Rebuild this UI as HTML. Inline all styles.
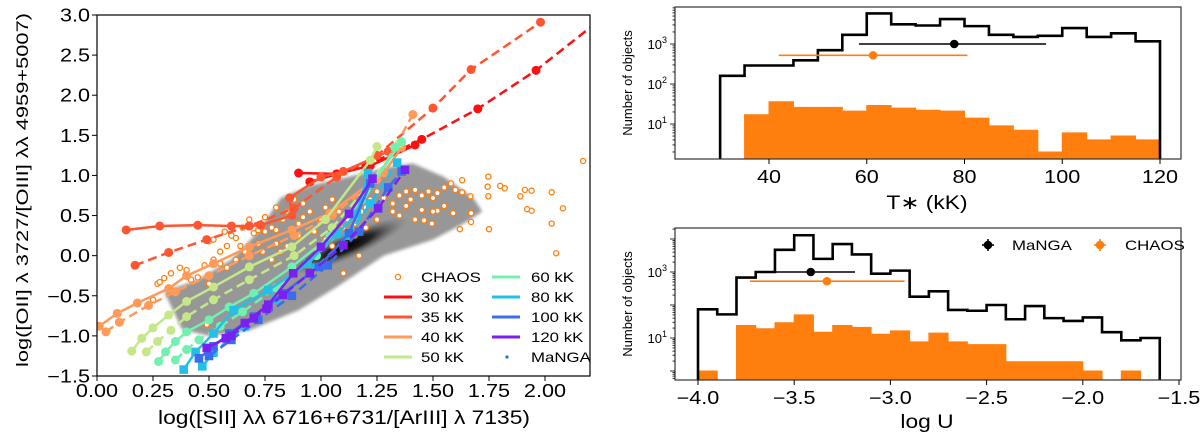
<!DOCTYPE html>
<html><head><meta charset="utf-8">
<style>
html,body{margin:0;padding:0;background:#fff;}
svg{display:block;font-family:"Liberation Sans",sans-serif;}
</style></head>
<body>
<svg id="fig" width="1200" height="435" viewBox="0 0 1200 435" xmlns="http://www.w3.org/2000/svg">
<defs>
<radialGradient id="coreg" cx="50%" cy="50%" r="50%">
<stop offset="0%" stop-color="#000"/><stop offset="40%" stop-color="#222"/><stop offset="100%" stop-color="#6a6a6a" stop-opacity="0"/>
</radialGradient>
<filter id="blur1"><feGaussianBlur stdDeviation="1.5"/></filter>
</defs>
</svg>
<script>
// ---------- LEFT CHART DATA ----------
const temps = ["30 kK","35 kK","40 kK","50 kK","60 kK","80 kK","100 kK","120 kK"];
const tempColors = ["#ff1010","#ff5530","#ff9a58","#c4e888","#72f0b0","#22c0e8","#3a6cf0","#7a20f0"];
const markerKind = ["c","c","c","c","c","s","s","s"];
const solid30=[[0.90,1.03],[1.07,1.02],[1.22,1.12],[1.42,1.38]];
const dash30=[[0.95,0.92],[1.2,1.12],[1.45,1.45],[1.70,1.83],[1.96,2.31],[2.25,2.95]];
const solid35=[[0.13,0.32],[0.28,0.37],[0.45,0.38],[0.60,0.37],[0.68,0.37],[0.73,0.38],[0.87,0.50],[0.86,0.72],[1.0,0.98],[1.1,1.05],[1.3,1.3]];
const dash35=[[0.17,-0.12],[0.32,0.04],[0.49,0.20],[0.68,0.37],[0.88,0.59],[1.07,0.98],[1.25,1.25],[1.50,1.84],[1.67,2.32],[1.98,2.91]];
const solid40=[[0.01,-0.88],[0.09,-0.72],[0.18,-0.59],[0.32,-0.41],[0.40,-0.25],[0.52,-0.10],[0.68,0.11],[0.87,0.32],[1.04,0.53],[1.28,1.03],[1.36,1.35]];
const dash40=[[0.04,-0.95],[0.10,-0.83],[0.23,-0.62],[0.35,-0.45],[0.50,-0.25],[0.68,0.0],[0.88,0.25],[1.05,0.5],[1.25,0.95],[1.41,1.76]];
const solid50=[[0.155,-1.19],[0.20,-1.03],[0.25,-0.90],[0.32,-0.74],[0.40,-0.57],[0.52,-0.39],[0.68,-0.14],[0.87,0.11],[1.02,0.45],[1.22,1.19],[1.25,1.36]];
const dash50=[[0.22,-1.20],[0.27,-1.07],[0.33,-0.93],[0.40,-0.76],[0.52,-0.55],[0.68,-0.30],[0.88,0.0],[1.05,0.35],[1.22,0.9],[1.35,1.4]];
const solid60=[[0.275,-1.32],[0.306,-1.20],[0.35,-1.07],[0.40,-0.95],[0.50,-0.80],[0.59,-0.64],[0.70,-0.47],[0.87,-0.14],[1.04,0.24],[1.18,0.69],[1.36,1.42]];
const dash60=[[0.35,-1.30],[0.40,-1.17],[0.455,-1.05],[0.55,-0.88],[0.65,-0.7],[0.8,-0.4],[0.98,0.0],[1.15,0.5],[1.33,1.35]];
const solid80=[[0.387,-1.42],[0.44,-1.20],[0.52,-0.97],[0.61,-0.68],[0.765,-0.43],[0.94,-0.10],[1.07,0.27],[1.16,0.52],[1.21,1.03]];
const dash80=[[0.47,-1.38],[0.52,-1.21],[0.66,-0.88],[0.80,-0.55],[0.98,-0.15],[1.12,0.25],[1.22,0.65],[1.34,1.16]];
const solid100=[[0.455,-1.28],[0.52,-1.13],[0.59,-0.97],[0.70,-0.76],[0.83,-0.47],[0.99,-0.14],[1.125,0.28],[1.22,0.9]];
const dash100=[[0.5,-1.25],[0.6,-1.05],[0.72,-0.8],[0.87,-0.5],[1.03,-0.12],[1.17,0.3],[1.3,0.85],[1.36,1.05]];
const solid120=[[0.49,-1.15],[0.575,-1.03],[0.66,-0.84],[0.765,-0.61],[0.876,-0.22],[1.0,0.11],[1.125,0.52],[1.23,0.96]];
const dash120=[[0.60,-1.0],[0.70,-0.78],[0.757,-0.66],[0.83,-0.49],[0.95,-0.22],[1.1,0.13],[1.255,0.59],[1.375,1.07]];
const solidSeries=[solid30,solid35,solid40,solid50,solid60,solid80,solid100,solid120];
const dashSeries=[dash30,dash35,dash40,dash50,dash60,dash80,dash100,dash120];
const chaosX=[2.17,1.747,1.744,1.747,1.75,1.80,1.82,1.89,1.91,1.94,1.92,1.94,2.03,2.08,2.03,2.05,1.667,1.67,1.67,1.62,1.63,1.63,1.495,1.59,1.52,1.45,1.46,1.10,1.17,0.49,
0.27,0.28,0.30,0.33,0.37,0.40,0.45,0.48,0.52,0.55,0.50,0.52,0.55,0.58,0.60,0.57,0.62,0.64,0.66,0.65,0.70,0.72,0.75,0.78,0.80,0.72,0.74,0.80,0.83,0.85,0.87,0.90,0.92,0.95,0.90,0.82,0.78,0.85,0.97,1.00,1.02,1.05,1.08,1.10,1.12,1.15,1.18,1.20,1.22,1.25,1.28,1.30,1.32,1.35,1.38,1.40,1.42,1.45,1.48,1.50,1.52,1.55,1.58,1.60,1.32,1.35,1.38,1.42,1.50,1.55,1.20,1.15,1.25,1.02,0.98,1.05,0.62,0.58,0.42,0.35,0.25,0.50,0.68,0.75,0.80,0.88,0.92];
const chaosY=[1.18,0.985,0.86,0.74,0.33,0.87,0.84,0.74,0.82,0.81,0.58,0.56,0.79,0.59,0.40,0.03,0.74,0.53,0.42,0.33,0.94,0.79,0.40,0.53,0.56,0.57,0.44,-0.22,0.0,-0.86,
-0.35,-0.33,-0.28,-0.22,-0.15,-0.18,-0.27,-0.12,-0.05,-0.10,0.18,0.20,0.05,0.12,0.25,0.30,0.22,0.12,0.05,0.35,0.28,0.32,0.30,0.35,0.32,0.15,0.05,0.15,0.45,0.55,0.60,0.40,0.48,0.55,0.25,0.05,-0.05,0.12,0.30,0.45,0.60,0.70,0.55,0.35,0.45,0.40,0.55,0.60,0.70,0.80,0.72,0.85,0.65,0.75,0.80,0.70,0.82,0.75,0.80,0.72,0.78,0.85,0.90,0.82,0.55,0.50,0.62,0.45,0.55,0.62,0.35,0.25,0.45,0.20,0.08,0.12,-0.05,-0.15,-0.30,-0.45,-0.55,-0.35,0.45,0.48,0.60,0.70,0.65];
const xTicksL=[0,0.25,0.5,0.75,1.0,1.25,1.5,1.75,2.0];
const xTickLabelsL=["0.00","0.25","0.50","0.75","1.00","1.25","1.50","1.75","2.00"];
const yTicksL=[3.0,2.5,2.0,1.5,1.0,0.5,0.0,-0.5,-1.0,-1.5];
const yTickLabelsL=["3.0","2.5","2.0","1.5","1.0","0.5","0.0","\u22120.5","\u22121.0","\u22121.5"];
// ---------- TOP RIGHT DATA ----------
const tEdges=[30,35,40,45,50,55,60,65,70,75,80,85,90,95,100,105,110,115,120];
const tMaNGA=[160,290,290,390,700,1700,5800,3100,2900,4200,2800,1700,1500,1600,2500,1500,1850,1170];
const tCHAOS=[0,17,36,26,26,21,29,25,22,21,14,9,7,2,6,4,5,4];
const tMeanMaNGA=[77.9,1000], tErrMaNGA=[58.4,96.7];
const tMeanCHAOS=[61.3,520], tErrCHAOS=[42,80.6];
const tXTicks=[40,60,80,100,120];
const tYTicks=[1,2,3];
// ---------- BOTTOM RIGHT DATA ----------
const uEdges=[-4.0,-3.9,-3.8,-3.7,-3.6,-3.5,-3.4,-3.3,-3.2,-3.1,-3.0,-2.9,-2.8,-2.7,-2.6,-2.5,-2.4,-2.3,-2.2,-2.1,-2.0,-1.9,-1.8,-1.7,-1.6];
const uMaNGA=[74,52,680,1000,4700,13000,2500,7000,3400,890,1100,178,260,71,67,100,37,93,40,33,42,15,8.5,10];
const uCHAOS=[1,0,24,19,29,50,15,24,21,13,16.5,7.6,14,7.6,6.3,6.3,1.9,1.9,1.9,1.9,1,0,1,0];
const uMeanMaNGA=[-3.414,1000], uErrMaNGA=[-3.70,-3.184];
const uMeanCHAOS=[-3.33,525], uErrCHAOS=[-3.73,-2.926];
const uXTicks=[-4.0,-3.5,-3.0,-2.5,-2.0,-1.5];
const uXTickLabels=["\u22124.0","\u22123.5","\u22123.0","\u22122.5","\u22122.0","\u22121.5"];
const uYTicks=[1,3];

const NS="http://www.w3.org/2000/svg";
const svg=document.getElementById('fig');
function mk(tag,attrs,parent){const e=document.createElementNS(NS,tag);for(const k in attrs)e.setAttribute(k,attrs[k]);(parent||svg).appendChild(e);return e;}
const stretch=[];
function txt(s,x,y,size,anchor,parent,st){const t=mk('text',{x:x,y:y,'font-size':size,'text-anchor':anchor||'middle',fill:'#000'},parent);t.textContent=s;if(st!==false)stretch.push(t);return t;}

const LX=x=>97+x*224, LY=y=>15+(3-y)*80.22;
const TX=t=>769+(t-40)*4.8875, TY=v=>44-(Math.log10(v)-3)*40;
const UX=u=>698+(u+4)*192.4, UY=v=>272-(Math.log10(v)-3)*33;

// ===== LEFT CHART =====
const gL=mk('g',{});


const cloudShape=[[0.3,-0.45],[0.45,-0.3],[0.6,-0.05],[0.72,0.3],[0.82,0.72],[0.96,0.88],[1.15,1.0],[1.3,1.1],[1.41,1.15],[1.55,0.98],[1.68,0.72],[1.72,0.55],[1.65,0.42],[1.5,0.2],[1.28,0.0],[1.07,-0.39],[0.9,-0.68],[0.68,-0.93],[0.5,-1.0],[0.38,-0.92]];
const cloud=mk('polygon',{points:cloudShape.map(p=>LX(p[0])+','+LY(p[1])).join(' '),fill:'#8c8c8c','fill-opacity':0.9,filter:'url(#blur1)'},gL);


const core=mk('ellipse',{cx:LX(1.12),cy:LY(0.12),rx:65,ry:13,fill:'url(#coreg)',transform:`rotate(-24 ${LX(1.12)} ${LY(0.12)})`},gL);


for(let i=0;i<chaosX.length;i++){
 const c=mk('circle',{cx:LX(chaosX[i]),cy:LY(chaosY[i]),r:2.6,fill:'#fff',stroke:'#ff7f0e','stroke-width':1.3},gL);
 
 
}
function marker(kind,x,y,color,parent){
 if(kind==='c') return mk('circle',{cx:x,cy:y,r:4.5,fill:color},parent);
 return mk('rect',{x:x-4.3,y:y-4.3,width:8.6,height:8.6,fill:color},parent);
}
for(let i=0;i<temps.length;i++){
 [[solidSeries[i],null],[dashSeries[i],'9,5']].forEach(([ser,dash])=>{
  const a={points:ser.map(p=>LX(p[0])+','+LY(p[1])).join(' '),fill:'none',stroke:tempColors[i],'stroke-width':2.5};
  if(dash)a['stroke-dasharray']=dash;
  const pl=mk('polyline',a,gL);
  
  
  ser.forEach(p=>{const m=marker(markerKind[i],LX(p[0]),LY(p[1]),tempColors[i],gL);
   
   });
 });
}
mk('rect',{x:0,y:0,width:97,height:435,fill:'#fff'},gL);
mk('rect',{x:590,y:0,width:80,height:435,fill:'#fff'},gL);
mk('rect',{x:0,y:0,width:600,height:15,fill:'#fff'},gL);
const frameL=mk('rect',{x:97,y:15,width:493,height:361,fill:'none',stroke:'#000','stroke-width':1.2},gL);


xTicksL.forEach((v,i)=>{mk('line',{x1:LX(v),x2:LX(v),y1:376,y2:381,stroke:'#000'},gL);
 const t=txt(xTickLabelsL[i],LX(v),397,18,'middle',gL);
 
 });
yTicksL.forEach((v,i)=>{mk('line',{x1:92,x2:97,y1:LY(v),y2:LY(v),stroke:'#000'},gL);
 const t=txt(yTickLabelsL[i],90,LY(v)+6.5,18,'end',gL);
 
 });
const xl=txt("log([SII] \u03bb\u03bb 6716+6731/[ArIII] \u03bb 7135)",344,424,19,'middle',gL,false);
xl.setAttribute('textLength',372);xl.setAttribute('lengthAdjust','spacingAndGlyphs');


const yl=txt("log([OII] \u03bb 3727/[OIII] \u03bb\u03bb 4959+5007)",0,0,17,'middle',gL,false);
yl.setAttribute('transform','translate(28,190) rotate(-90)');
yl.setAttribute('textLength',354);yl.setAttribute('lengthAdjust','spacingAndGlyphs');


const lg=mk('g',{},gL);


const rowsY=[277,297,317,337,357];
const lc=mk('circle',{cx:398,cy:277,r:2.6,fill:'#fff',stroke:'#ff7f0e','stroke-width':1.3},lg);


txt("CHAOS",421,282,14,'start',lg);
for(let i=0;i<temps.length;i++){
 const col=i<4?0:1, row=i<4?i+1:i-4;
 const x0=col?492:384, tx=col?531:421;
 const ln=mk('line',{x1:x0,x2:x0+28,y1:rowsY[row],y2:rowsY[row],stroke:tempColors[i],'stroke-width':3},lg);
 
 
 txt(temps[i],tx,rowsY[row]+5,14,'start',lg);
}
const lm=mk('circle',{cx:507,cy:357,r:1.6,fill:'#1f77b4'},lg);


txt("MaNGA",531,362,14,'start',lg);

// ===== HISTOGRAMS =====
function stepPath(edges,counts,X,Y,bottom,close){
 let d=`M${X(edges[0])},${bottom}`;
 for(let i=0;i<counts.length;i++){
  const y=counts[i]>0?Y(counts[i]):bottom;
  d+=` L${X(edges[i])},${y} L${X(edges[i+1])},${y}`;
 }
 d+=` L${X(edges[edges.length-1])},${bottom}`;
 if(close)d+=' Z';
 return d;
}
function histPanel(name,left,top,right,bottom,edges,mangaC,chaosC,X,Y,meanM,errM,meanC,errC,xt,xtl,yt){
 const g=mk('g',{});
 
 
 const of=mk('path',{d:stepPath(edges,chaosC,X,Y,bottom,true),fill:'#ff7f0e',stroke:'#ff7f0e','stroke-width':1},g);
 
 
 const bl=mk('path',{d:stepPath(edges,mangaC,X,Y,bottom,false),fill:'none',stroke:'#000','stroke-width':2.6},g);
 
 
 const e1=mk('line',{x1:X(errM[0]),x2:X(errM[1]),y1:Y(meanM[1]),y2:Y(meanM[1]),stroke:'#000','stroke-width':1.6},g);
 
 
 const d1=mk('circle',{cx:X(meanM[0]),cy:Y(meanM[1]),r:4.3,fill:'#000'},g);
 
 
 const e2=mk('line',{x1:X(errC[0]),x2:X(errC[1]),y1:Y(meanC[1]),y2:Y(meanC[1]),stroke:'#ff7f0e','stroke-width':1.6},g);
 
 
 const d2=mk('circle',{cx:X(meanC[0]),cy:Y(meanC[1]),r:4.3,fill:'#ff7f0e'},g);
 
 
 const fr=mk('rect',{x:left,y:top,width:right-left,height:bottom-top,fill:'none',stroke:'#333','stroke-width':1.2},g);
 
 
 xt.forEach((v,i)=>{mk('line',{x1:X(v),x2:X(v),y1:bottom,y2:bottom+5,stroke:'#000'},g);
  const t=txt(xtl[i],X(v),bottom+24,18,'middle',g);
  
  });
 for(let k=-1;k<=5;k++){for(let m=1;m<10;m++){const v=m*Math.pow(10,k);const y=Y(v);
  if(y<top||y>bottom)continue;
  mk('line',{x1:left-(m===1?5:2.5),x2:left,y1:y,y2:y,stroke:'#000','stroke-width':0.8},g);}}
 yt.forEach(p=>{const y=Y(Math.pow(10,p));
  const t=mk('text',{x:left-8,y:y+5,'font-size':13,'text-anchor':'end',fill:'#000'},g);
  t.textContent='10';
  const s=mk('tspan',{dy:-6,'font-size':9},t);s.textContent=String(p);
  
  });
 const yl=txt("Number of objects",0,0,13,'middle',g,false);
 yl.setAttribute('transform',`translate(632,${(top+bottom)/2}) rotate(-90)`);
 
 
 return g;
}
const gT=histPanel('temperature-histogram',675,7,1181,159,tEdges,tMaNGA,tCHAOS,TX,TY,tMeanMaNGA,tErrMaNGA,tMeanCHAOS,tErrCHAOS,tXTicks,tXTicks.map(String),tYTicks);
const tT=txt("T\u2217 (kK)",927,209,19,'middle',gT);


const gU=histPanel('ionization-histogram',675,228,1181,380,uEdges,uMaNGA,uCHAOS,UX,UY,uMeanMaNGA,uErrMaNGA,uMeanCHAOS,uErrCHAOS,uXTicks,uXTickLabels,uYTicks);
const tU=txt("log U",927,428,19,'middle',gU);


const lg2=mk('g',{},gU);


[[988,'#000','MaNGA',1012],[1100,'#ff7f0e','CHAOS',1125]].forEach(([x,c,s,tx])=>{
 const m=mk('g',{},lg2);
 
 
 mk('line',{x1:x-6,x2:x+6,y1:245,y2:245,stroke:c,'stroke-width':1.6},m);
 mk('line',{x1:x,x2:x,y1:239,y2:251,stroke:c,'stroke-width':1.6},m);
 mk('circle',{cx:x,cy:245,r:4.3,fill:c},m);
 txt(s,tx,250,14,'start',m);
});
stretch.forEach(t=>{try{const w=t.getComputedTextLength();if(w>0){t.setAttribute('textLength',(w*1.2).toFixed(1));t.setAttribute('lengthAdjust','spacingAndGlyphs');}}catch(e){}});
</script>
</body></html>
